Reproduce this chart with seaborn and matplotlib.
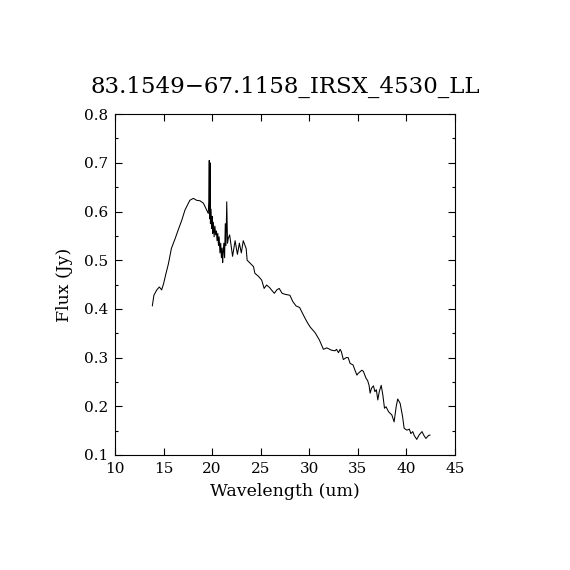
import matplotlib
matplotlib.use("Agg")
import matplotlib.pyplot as plt
import seaborn as sns
import pandas as pd
from matplotlib.ticker import MultipleLocator

title = "83.1549\u221267.1158_IRSX_4530_LL"
xlabel = "Wavelength (um)"
ylabel = "Flux (Jy)"

# spectrum
wavelength = [
    13.84, 14.0, 14.3, 14.56, 14.8, 15.0, 15.25, 15.5, 15.8, 16.2,
    16.5, 16.87, 17.2, 17.7, 18.06, 18.4, 18.75, 19.1, 19.44, 19.6,
    19.65, 19.7, 19.74, 19.78, 19.82, 19.88, 19.95, 20.0, 20.05, 20.12,
    20.2, 20.28, 20.36, 20.44, 20.5, 20.58, 20.65, 20.72, 20.8, 20.88,
    20.95, 21.02, 21.08, 21.13, 21.2, 21.28, 21.35, 21.42, 21.5, 21.58,
    21.66, 21.8, 22.1, 22.36, 22.6, 22.8, 23.0, 23.2, 23.5, 23.6,
    23.9, 24.25, 24.4, 24.76, 25.1, 25.35, 25.6, 25.9, 26.1, 26.4,
    26.65, 26.9, 27.2, 27.5, 28.0, 28.3, 28.64, 29.0, 29.4, 29.74,
    30.08, 30.6, 31.04, 31.45, 31.8, 32.3, 32.66, 32.8, 33.0, 33.17,
    33.3, 33.5, 33.8, 34.0, 34.2, 34.5, 34.7, 34.9, 35.0, 35.4,
    35.56, 35.85, 36.0, 36.15, 36.26, 36.4, 36.6, 36.75, 36.9, 37.05,
    37.2, 37.4, 37.57, 37.74, 37.9, 38.15, 38.5, 38.73, 38.94, 39.1,
    39.35, 39.6, 39.76, 40.04, 40.3, 40.45, 40.65, 40.8, 41.06, 41.3,
    41.6, 41.8, 42.0, 42.27, 42.44,
]
flux = [
    0.406, 0.428, 0.439, 0.445, 0.439, 0.452, 0.473, 0.493, 0.524, 0.545,
    0.562, 0.582, 0.603, 0.623, 0.627, 0.623, 0.622, 0.617, 0.603, 0.596,
    0.620, 0.705, 0.585, 0.700, 0.575, 0.605, 0.565, 0.590, 0.555, 0.578,
    0.548, 0.570, 0.552, 0.560, 0.540, 0.555, 0.530, 0.548, 0.515, 0.535,
    0.505, 0.525, 0.495, 0.515, 0.535, 0.505, 0.575, 0.530, 0.620, 0.535,
    0.545, 0.552, 0.508, 0.540, 0.512, 0.535, 0.515, 0.540, 0.524, 0.500,
    0.494, 0.487, 0.473, 0.467, 0.459, 0.442, 0.449, 0.444, 0.439, 0.432,
    0.439, 0.442, 0.432, 0.430, 0.428, 0.415, 0.406, 0.403, 0.387, 0.374,
    0.363, 0.351, 0.336, 0.317, 0.320, 0.315, 0.314, 0.317, 0.310, 0.317,
    0.312, 0.296, 0.300, 0.300, 0.288, 0.285, 0.274, 0.264, 0.267, 0.274,
    0.272, 0.257, 0.253, 0.243, 0.227, 0.237, 0.242, 0.230, 0.234, 0.213,
    0.230, 0.243, 0.223, 0.196, 0.199, 0.189, 0.182, 0.168, 0.199, 0.215,
    0.206, 0.179, 0.155, 0.151, 0.153, 0.144, 0.148, 0.140, 0.132, 0.141,
    0.148, 0.140, 0.134, 0.140, 0.141,
]

df = pd.DataFrame({"wavelength": wavelength, "flux": flux})

sns.set_theme(style="ticks")
plt.rcParams["font.family"] = ["DejaVu Serif"]

fig = plt.figure(figsize=(5.7, 5.7), dpi=100)
ax = fig.add_axes([0.2018, 0.2018, 0.5965, 0.598])

sns.lineplot(
    data=df, x="wavelength", y="flux",
    estimator=None, sort=False, color="black", linewidth=0.75, ax=ax,
)

ax.set_xlim(10, 45)
ax.set_ylim(0.1, 0.8)
ax.xaxis.set_major_locator(MultipleLocator(5))
ax.yaxis.set_major_locator(MultipleLocator(0.1))
ax.yaxis.set_minor_locator(MultipleLocator(0.05))
ax.yaxis.set_major_formatter(plt.FuncFormatter(lambda v, p: f"{v:.1f}"))

ax.tick_params(which="both", direction="in", top=True, right=True,
               color="black", width=0.8, labelsize=11, labelcolor="black")
ax.tick_params(which="major", length=5)
ax.tick_params(which="minor", length=2.5)
ax.tick_params(axis="x", pad=5)
ax.tick_params(axis="y", pad=5)
for s in ax.spines.values():
    s.set_linewidth(0.8)
    s.set_color("black")

ax.set_xlabel(xlabel, fontsize=12.5, color="black", labelpad=5)
ax.set_ylabel(ylabel, fontsize=12.5, color="black", labelpad=8)
ax.set_title(title, fontsize=16.5, color="black", pad=15)

fig.savefig("out.png", dpi=100, facecolor="white")
